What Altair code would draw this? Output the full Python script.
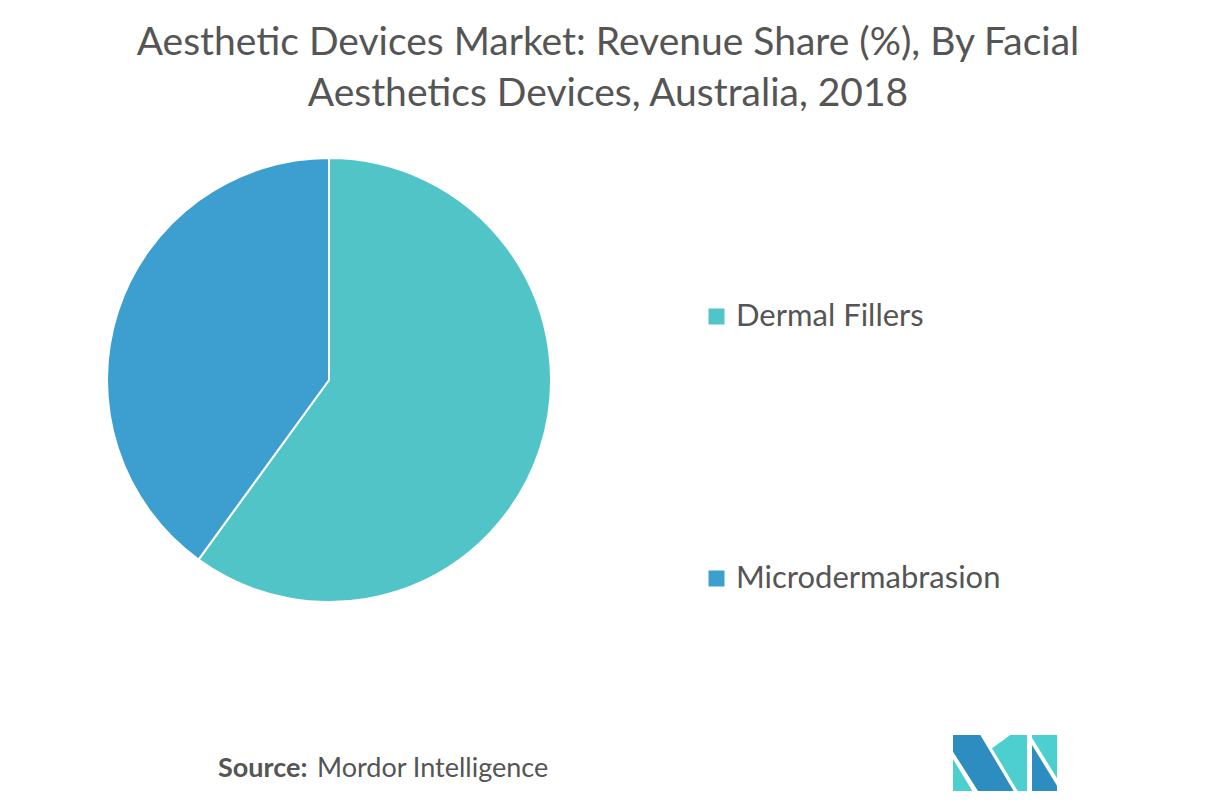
import altair as alt
import pandas as pd
import urllib.parse

# ---- data ----
categories = ["Dermal Fillers", "Microdermabrasion"]
shares = [60, 40]
colors = ["#51C4C7", "#3D9ED0"]
title_lines = ["Aesthetic Devices Market: Revenue Share (%), By Facial",
               "Aesthetics Devices, Australia, 2018"]
source_bold = "Source:"
source_text = "Mordor Intelligence"

df = pd.DataFrame({"category": categories, "share": shares, "order": [0, 1]})

TOP = 130
W, H = 1200, 788 - TOP

pie = alt.Chart(df).mark_arc(radius=222, stroke="white", strokeWidth=2).encode(
    theta=alt.Theta("share:Q", stack=True),
    order=alt.Order("order:Q"),
    color=alt.Color(
        "category:N",
        scale=alt.Scale(domain=categories, range=colors),
        sort=categories,
        legend=alt.Legend(
            title=None, orient="none", legendX=693, legendY=293 - TOP,
            symbolType="square", symbolSize=256, symbolStrokeWidth=0,
            labelFont="Lato", labelFontSize=31, labelColor="#555555",
            labelOffset=4, rowPadding=230, labelLimit=400,
        ),
    ),
    x=alt.value(321),
    y=alt.value(372 - TOP),
)

src_df = pd.DataFrame({"a": [source_bold], "b": [source_text]})
src1 = alt.Chart(src_df).mark_text(
    font="Lato", fontSize=27, fontWeight="bold", color="#555555",
    align="left", baseline="alphabetic"
).encode(text="a:N", x=alt.value(210), y=alt.value(639))
src2 = alt.Chart(src_df).mark_text(
    font="Lato", fontSize=27, color="#555555",
    align="left", baseline="alphabetic"
).encode(text="b:N", x=alt.value(309), y=alt.value(639))

svg = (
    '<svg xmlns="http://www.w3.org/2000/svg" viewBox="0 0 312 168" width="312" height="168">'
    '<polygon fill="#2E8DC0" points="0,0 82,0 182,168 75,168 0,50"/>'
    '<polygon fill="#4DCFD0" points="0,72 0,168 58,168"/>'
    '<polygon fill="#4DCFD0" points="172,0 222,0 222,168 194,168 117,40"/>'
    '<polygon fill="#4DCFD0" points="237,0 312,0 312,130 237,8"/>'
    '<polygon fill="#2E8DC0" points="237,30 312,152 312,168 237,168"/>'
    '</svg>'
)
logo_url = "data:image/svg+xml;charset=utf-8," + urllib.parse.quote(svg)
logo = alt.Chart(pd.DataFrame({"u": [logo_url]})).mark_image(
    width=104, height=56, align="center", baseline="middle"
).encode(url="u:N", x=alt.value(997), y=alt.value(755 - TOP))

chart = alt.layer(pie, src1, src2, logo).properties(
    width=W, height=H,
    title=alt.TitleParams(
        text=title_lines, font="Lato", fontSize=39, fontWeight="normal",
        color="#555555", anchor="middle", offset=24, lineHeight=51,
    ),
    autosize=alt.AutoSizeParams(type="none"),
    padding={"top": TOP, "left": 0, "right": 0, "bottom": 0},
).configure_view(stroke=None)

chart.save("out.html", embed_options={"renderer": "svg", "actions": False})
